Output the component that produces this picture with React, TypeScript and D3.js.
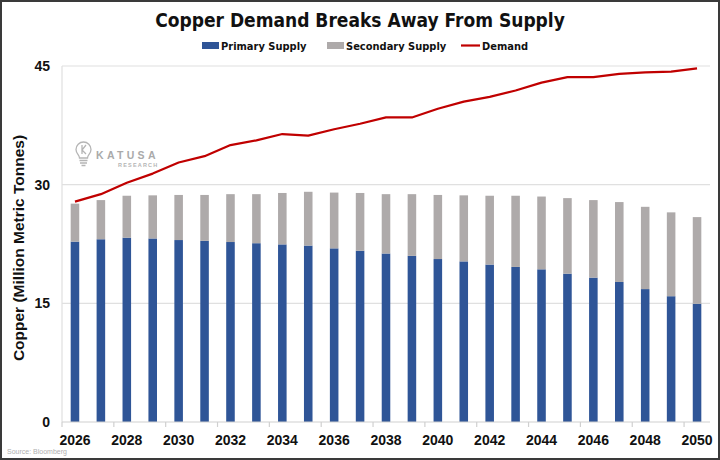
import React, { useEffect, useRef } from 'react';
import * as d3 from 'd3';

const years: string[] = d3.range(2026, 2051).map(String);

// million metric tonnes
const primarySupply: number[] = [
  22.8, 23.1, 23.3, 23.2, 23.0, 22.9, 22.75, 22.6, 22.45, 22.3, 21.95, 21.65, 21.3,
  21.0, 20.6, 20.3, 19.9, 19.6, 19.3, 18.75, 18.25, 17.7, 16.8, 15.9, 14.95,
];
const totalSupply: number[] = [
  27.6, 28.05, 28.6, 28.65, 28.7, 28.7, 28.8, 28.8, 28.95, 29.1, 29.0, 28.95, 28.8,
  28.8, 28.7, 28.65, 28.6, 28.6, 28.5, 28.3, 28.05, 27.8, 27.2, 26.5, 25.9,
];
const secondarySupply: number[] = totalSupply.map((t, i) => +(t - primarySupply[i]).toFixed(2));
const demand: number[] = [
  27.85, 28.8, 30.25, 31.4, 32.8, 33.6, 35.0, 35.6, 36.4, 36.2, 37.0, 37.7, 38.5,
  38.5, 39.6, 40.5, 41.1, 41.9, 42.9, 43.6, 43.6, 44.0, 44.2, 44.3, 44.7,
];
const yTicks: number[] = [0, 15, 30, 45];

const W = 720;
const H = 460;
const margin = { top: 66, right: 10, bottom: 38, left: 62 };

const BLUE = '#2f5597';
const GREY = '#aeaaaa';
const RED = '#c00000';
const NARROW = '"Liberation Sans Narrow", "DejaVu Sans Condensed", Arial, sans-serif';
const SANS = '"Liberation Sans", Arial, sans-serif';

const App: React.FC = () => {
  const svgRef = useRef<SVGSVGElement>(null);

  useEffect(() => {
    if (!svgRef.current) return;
    const svg = d3.select(svgRef.current);
    svg.selectAll('*').remove();

    const x0 = margin.left;
    const x1 = W - margin.right;
    const y0 = H - margin.bottom;

    // outer frame
    svg.append('rect')
      .attr('x', 1).attr('y', 1).attr('width', W - 2).attr('height', H - 2)
      .attr('fill', '#fff').attr('stroke', '#3a3a3a').attr('stroke-width', 2);

    const x = d3.scaleBand<string>()
      .domain(years)
      .range([x0, x1])
      .paddingInner(0.67)
      .paddingOuter(0.335);

    const y = d3.scaleLinear().domain([0, 45]).range([y0, margin.top]);

    // gridlines
    svg.append('g').selectAll('line')
      .data(yTicks.filter(t => t > 0))
      .enter().append('line')
      .attr('x1', x0).attr('x2', x1)
      .attr('y1', d => y(d)).attr('y2', d => y(d))
      .attr('stroke', '#e0e0e0').attr('stroke-width', 1.2);

    // left plot edge
    svg.append('line')
      .attr('x1', x0).attr('x2', x0).attr('y1', y(45)).attr('y2', y0)
      .attr('stroke', '#e0e0e0').attr('stroke-width', 1.2);

    // y labels
    svg.append('g').selectAll('text')
      .data(yTicks)
      .enter().append('text')
      .attr('x', 50).attr('y', d => y(d) + 5)
      .attr('text-anchor', 'end')
      .attr('font-family', SANS).attr('font-weight', 'bold').attr('font-size', 14)
      .attr('fill', '#111')
      .text(d => d);

    // y axis title
    svg.append('text')
      .attr('transform', `translate(24, ${(y0 + margin.top) / 2 + 4}) rotate(-90)`)
      .attr('text-anchor', 'middle')
      .attr('font-family', SANS).attr('font-weight', 'bold').attr('font-size', 15.5)
      .attr('fill', '#111')
      .text('Copper (Million Metric Tonnes)');

    // logo
    const logo = svg.append('g').attr('fill', 'none').attr('stroke', '#b5b5b5').attr('stroke-width', 1.3);
    logo.append('path')
      .attr('d', 'M79.5,158 C79.5,155 76,153.5 76,149.5 A7.5,7.5 0 1 1 91,149.5 C91,153.5 87.5,155 87.5,158 Z');
    logo.append('path').attr('d', 'M79.5,160.5 H87.5 M80,163 H87 M81.5,165.5 H85.5');
    logo.append('path').attr('d', 'M82,145 V154 M86,145 L82,150 L86,154');
    svg.append('text')
      .attr('x', 96).attr('y', 158.5)
      .attr('font-family', SANS).attr('font-weight', 'bold').attr('font-size', 10.5)
      .attr('letter-spacing', 3.3).attr('fill', '#aaa')
      .text('KATUSA');
    svg.append('text')
      .attr('x', 118).attr('y', 166.5)
      .attr('font-family', SANS).attr('font-weight', 'bold').attr('font-size', 5.5)
      .attr('letter-spacing', 1.2).attr('fill', '#b5b5b5')
      .text('RESEARCH');

    // stacked bars
    const rows = years.map((yr, i) => ({ year: yr, primary: primarySupply[i], secondary: secondarySupply[i] }));
    const stacked = d3.stack<{ year: string; primary: number; secondary: number }>()
      .keys(['primary', 'secondary'])(rows);
    const colors = [BLUE, GREY];

    svg.append('g').selectAll('g')
      .data(stacked)
      .enter().append('g')
      .attr('fill', (_d, i) => colors[i])
      .selectAll('rect')
      .data(d => d)
      .enter().append('rect')
      .attr('x', d => x(d.data.year) || 0)
      .attr('y', d => y(d[1]))
      .attr('width', x.bandwidth())
      .attr('height', d => y(d[0]) - y(d[1]));

    // x axis
    svg.append('line')
      .attr('x1', x0).attr('x2', x1).attr('y1', y0).attr('y2', y0)
      .attr('stroke', '#d0d0d0').attr('stroke-width', 1.2);
    const step = x.step();
    svg.append('g').selectAll('line')
      .data(d3.range(0, years.length, 2))
      .enter().append('line')
      .attr('x1', k => x0 + k * step).attr('x2', k => x0 + k * step)
      .attr('y1', y0).attr('y2', y0 + 5)
      .attr('stroke', '#d0d0d0').attr('stroke-width', 1.2);

    svg.append('g').selectAll('text')
      .data(years.filter((_d, i) => i % 2 === 0))
      .enter().append('text')
      .attr('x', d => (x(d) || 0) + x.bandwidth() / 2)
      .attr('y', 445)
      .attr('text-anchor', 'middle')
      .attr('font-family', SANS).attr('font-weight', 'bold').attr('font-size', 14)
      .attr('fill', '#111')
      .text(d => d);

    // demand line
    const line = d3.line<number>()
      .x((_d, i) => (x(years[i]) || 0) + x.bandwidth() / 2)
      .y(d => y(d));
    svg.append('path')
      .datum(demand)
      .attr('d', line)
      .attr('fill', 'none')
      .attr('stroke', RED)
      .attr('stroke-width', 2.2)
      .attr('stroke-linejoin', 'round');

    // title
    svg.append('text')
      .attr('x', 360).attr('y', 27)
      .attr('text-anchor', 'middle')
      .attr('font-family', NARROW).attr('font-weight', 'bold').attr('font-size', 19)
      .attr('fill', '#111')
      .text('Copper Demand Breaks Away From Supply');

    // legend
    const legend = svg.append('g').attr('font-family', NARROW).attr('font-weight', 'bold')
      .attr('font-size', 11).attr('fill', '#111');
    legend.append('rect').attr('x', 202).attr('y', 42).attr('width', 17).attr('height', 7).attr('fill', BLUE);
    legend.append('text').attr('x', 221).attr('y', 49.5).text('Primary Supply');
    legend.append('rect').attr('x', 327).attr('y', 42).attr('width', 17).attr('height', 7).attr('fill', GREY);
    legend.append('text').attr('x', 346).attr('y', 49.5).text('Secondary Supply');
    legend.append('line').attr('x1', 461).attr('x2', 480).attr('y1', 45.5).attr('y2', 45.5)
      .attr('stroke', RED).attr('stroke-width', 2.2);
    legend.append('text').attr('x', 482).attr('y', 49.5).text('Demand');

    // source
    svg.append('text')
      .attr('x', 7).attr('y', 454)
      .attr('font-family', SANS).attr('font-size', 7)
      .attr('fill', '#b0b0b0')
      .text('Source: Bloomberg');
  }, []);

  return (
    <svg
      ref={svgRef}
      width={W}
      height={H}
      style={{ position: 'absolute', left: 0, top: 0, display: 'block' }}
    />
  );
};

export default App;
